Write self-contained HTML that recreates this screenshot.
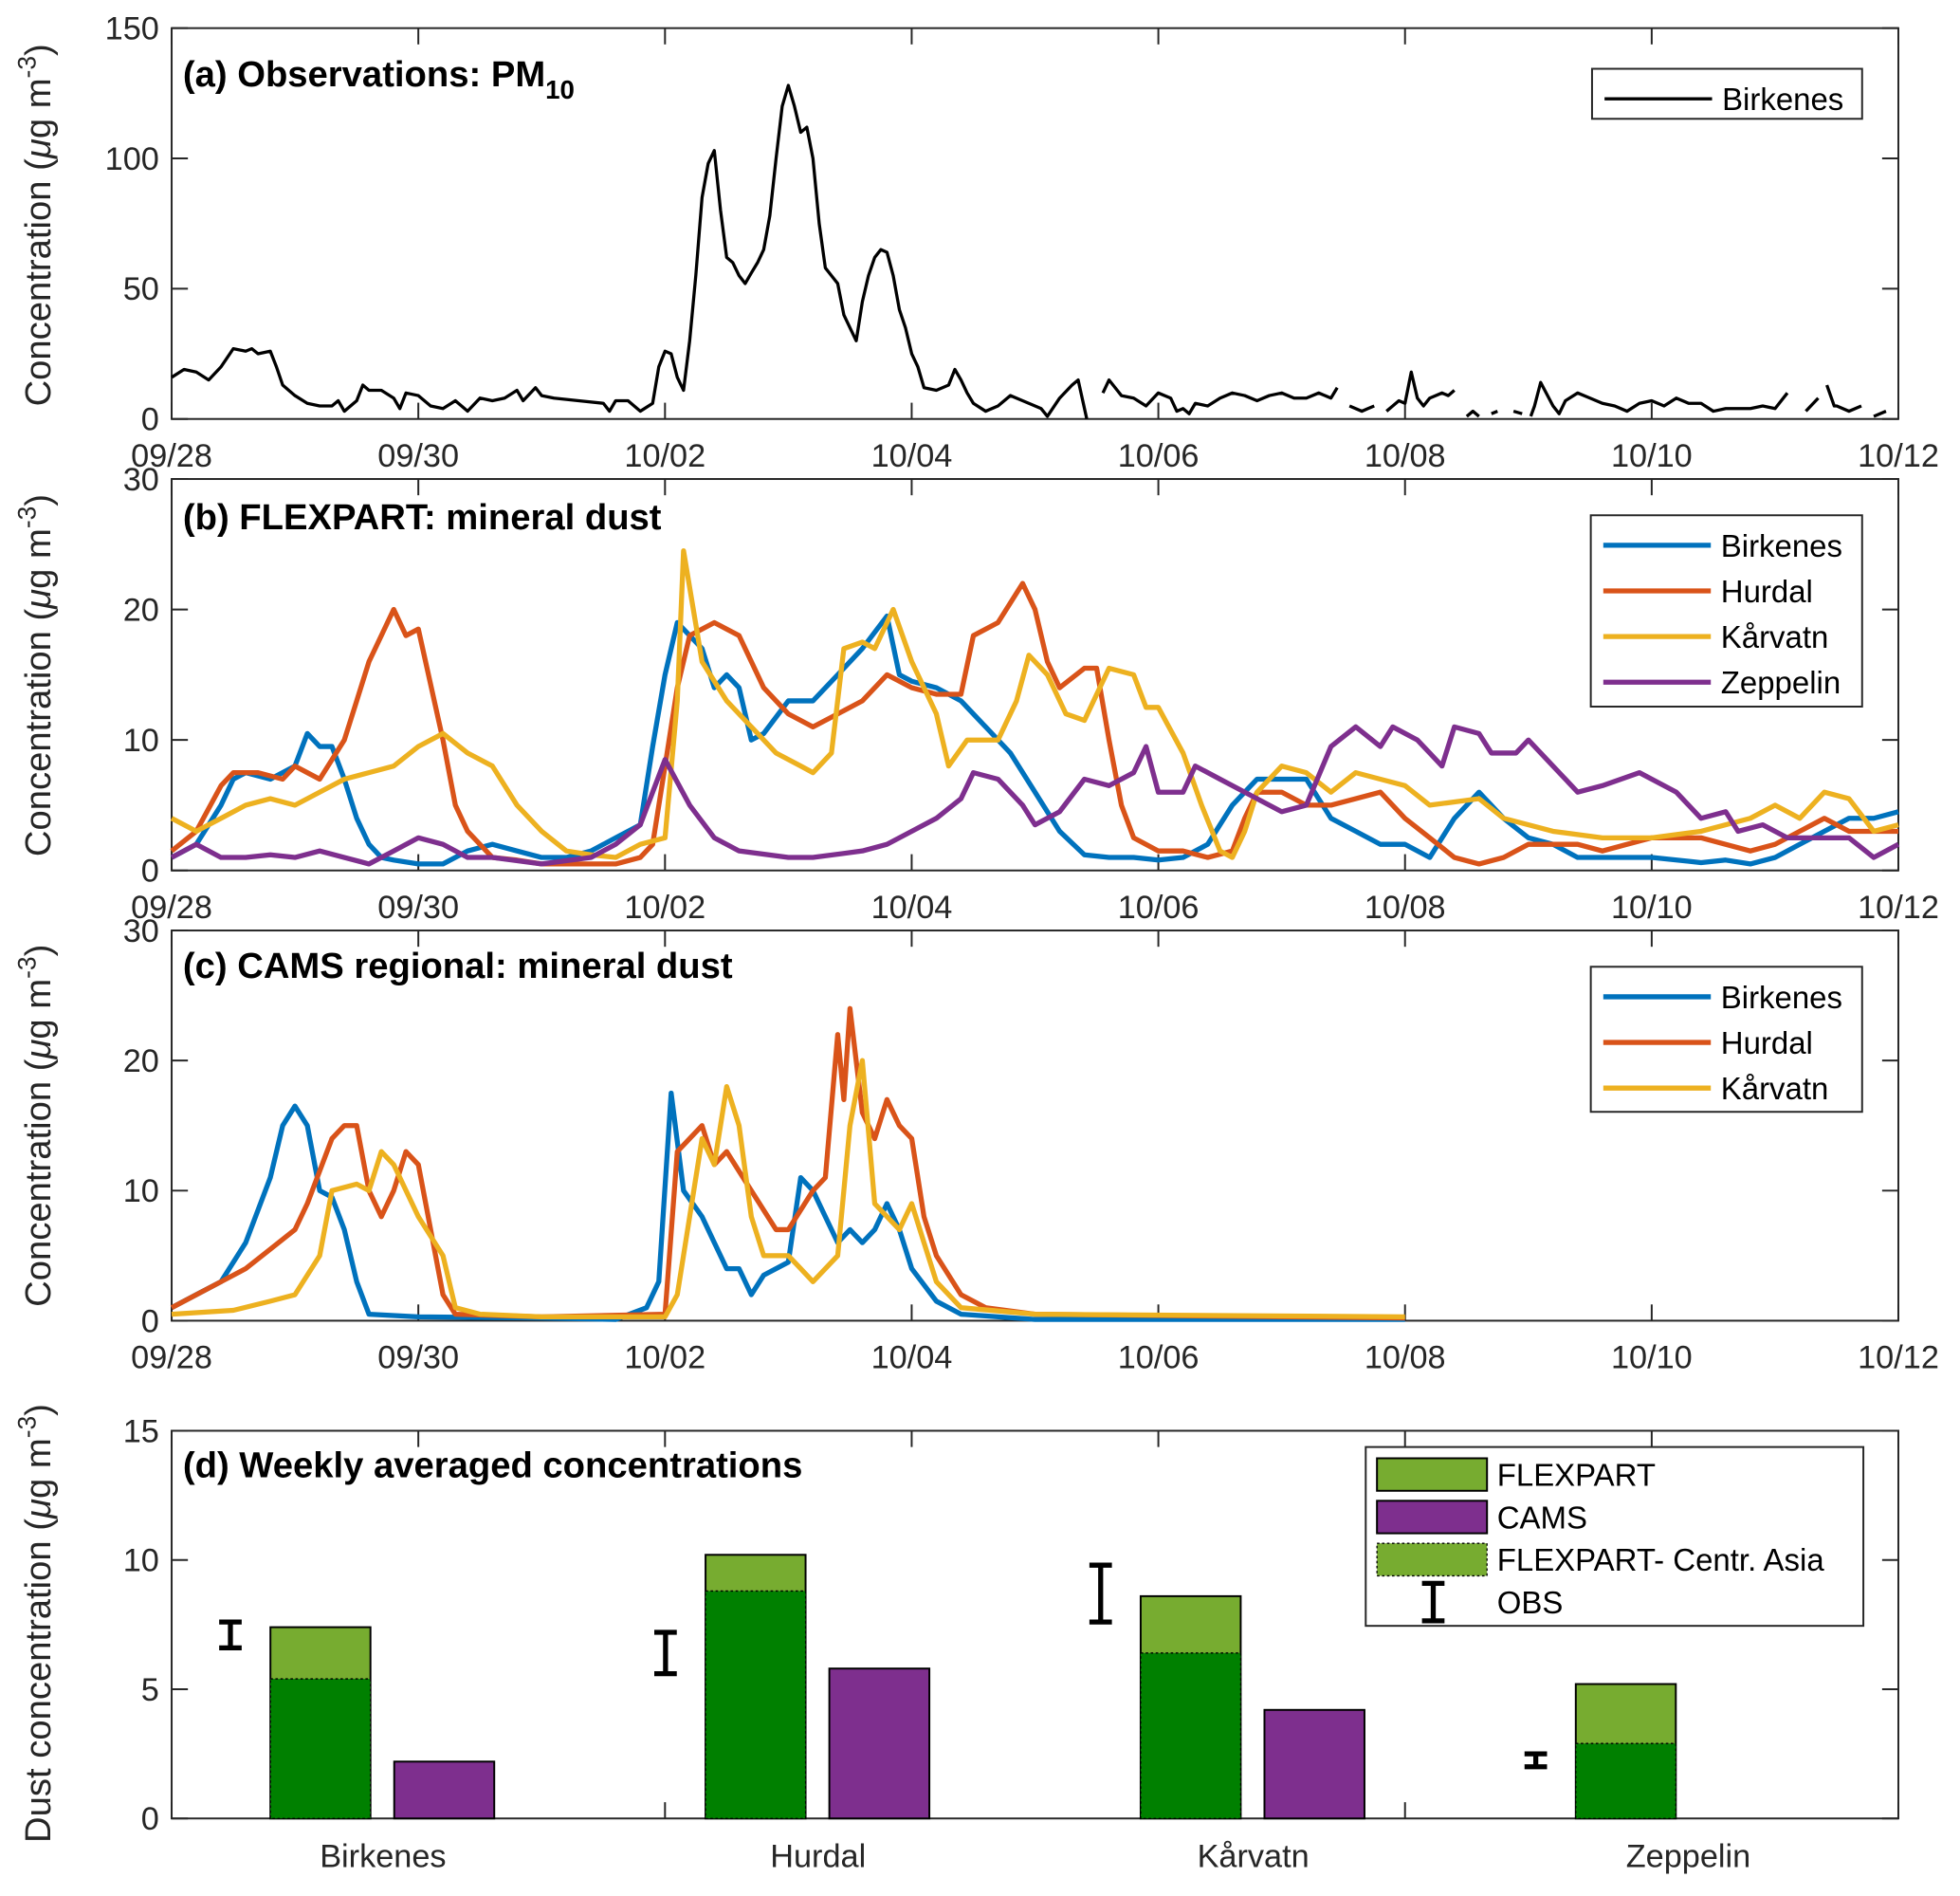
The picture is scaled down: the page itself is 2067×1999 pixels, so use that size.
<!DOCTYPE html>
<html><head><meta charset="utf-8"><style>
html,body{margin:0;padding:0;background:#fff;}
svg{display:block;font-family:"Liberation Sans",Arial,sans-serif;}
</style></head><body>
<svg id="fig" width="2067" height="1999" viewBox="0 0 1567 1516" xmlns="http://www.w3.org/2000/svg"></svg>
<script>
// ---------- DATA ----------
const xTickLabels = ["09/28","09/30","10/02","10/04","10/06","10/08","10/10","10/12"];
const yTicksA = [0,50,100,150];
const yTicksBC = [0,10,20,30];
const yTicksD = [0,5,10,15];
const stationNames = ["Birkenes","Hurdal","Kårvatn","Zeppelin"];

// panel a: observations (day offset from 09/28, value); null = gap
const obsT = [0,0.1,0.2,0.3,0.4,0.5,0.6,0.65,0.7,0.8,0.85,0.9,1.0,1.1,1.2,1.3,1.35,1.4,1.5,1.55,1.6,1.7,1.8,1.85,1.9,2.0,2.1,2.2,2.3,2.4,2.5,2.6,2.7,2.8,2.85,2.95,3.0,3.1,3.3,3.5,3.55,3.6,3.7,3.8,3.9,3.95,4.0,4.05,4.1,4.15,4.2,4.25,4.3,4.35,4.4,4.45,4.5,4.55,4.6,4.65,4.7,4.75,4.8,4.85,4.9,4.95,5.0,5.05,5.1,5.15,5.2,5.25,5.3,5.35,5.4,5.45,5.5,5.55,5.6,5.65,5.7,5.75,5.8,5.85,5.9,5.95,6.0,6.05,6.1,6.2,6.3,6.35,6.4,6.45,6.5,6.6,6.7,6.8,6.9,7.0,7.05,7.1,7.2,7.3,7.35,7.42,7.48,7.55,7.6,7.65,7.7,7.8,7.9,8.0,8.1,8.15,8.2,8.25,8.3,8.4,8.5,8.6,8.7,8.8,8.9,9.0,9.1,9.2,9.3,9.4,9.45,9.5,9.55,9.65,9.7,9.75,9.8,9.85,9.9,9.95,10.0,10.05,10.1,10.15,10.2,10.3,10.35,10.4,10.45,10.5,10.55,10.6,10.65,10.7,10.75,10.8,10.88,10.95,11.0,11.02,11.05,11.1,11.2,11.25,11.3,11.4,11.5,11.6,11.7,11.8,11.9,12.0,12.1,12.2,12.3,12.4,12.5,12.6,12.7,12.8,12.9,13.0,13.1,13.2,13.25,13.35,13.4,13.42,13.48,13.5,13.6,13.7,13.75,13.8,13.9,14.0];
const obsV = [16,19,18,15,20,27,26,27,25,26,20,13,9,6,5,5,7,3,7,13,11,11,8,4,10,9,5,4,7,3,8,7,8,11,7,12,9,8,7,6,3,7,7,3,6,20,26,25,16,11,30,55,85,98,103,80,62,60,55,52,56,60,65,78,100,120,128,120,110,112,100,75,58,55,52,40,35,30,45,55,62,65,64,55,42,35,25,20,12,11,13,19,15,10,6,3,5,9,7,5,4,1,8,13,15,0,null,10,15,12,9,8,5,10,8,3,4,2,6,5,8,10,9,7,9,10,8,8,10,8,12,null,5,3,4,5,null,3,5,7,6,18,8,5,8,10,9,11,null,1,3,1,null,2,3,null,3,2,null,1,5,14,5,2,7,10,8,6,5,3,6,7,5,8,6,6,3,4,4,4,5,4,10,null,3,8,null,13,5,5,3,5,null,1,3];

// panel b: FLEXPART
const fbBirkT = [0,0.2,0.4,0.5,0.6,0.8,1.0,1.1,1.2,1.3,1.4,1.5,1.6,1.7,1.8,2.0,2.2,2.4,2.6,2.8,3.0,3.2,3.4,3.6,3.8,3.9,4.0,4.1,4.2,4.3,4.4,4.5,4.6,4.7,4.8,5.0,5.2,5.4,5.6,5.8,5.9,6.0,6.2,6.4,6.6,6.8,7.0,7.2,7.4,7.6,7.8,8.0,8.2,8.4,8.6,8.8,9.0,9.2,9.4,9.6,9.8,10.0,10.2,10.4,10.6,10.8,11.0,11.2,11.4,11.6,12.0,12.4,12.6,12.8,13.0,13.2,13.4,13.6,13.8,14.0];
const fbBirkV = [1,2,5,7,7.5,7,8,10.5,9.5,9.5,7,4,2,1,0.8,0.5,0.5,1.5,2,1.5,1,1,1.5,2.5,3.5,9.5,15,19,18,17,14,15,14,10,10.5,13,13,15,17,19.5,15,14.5,14,13,11,9,6,3,1.2,1,1,0.8,1,2,5,7,7,7,4,3,2,2,1,4,6,4,2.5,2,1,1,1,0.6,0.8,0.5,1,2,3,4,4,4.5];
const fbHurdT = [0,0.2,0.4,0.5,0.7,0.9,1.0,1.1,1.2,1.4,1.5,1.6,1.7,1.8,1.9,2.0,2.2,2.3,2.4,2.6,2.8,3.0,3.4,3.6,3.8,3.9,4.0,4.1,4.2,4.4,4.6,4.8,5.0,5.2,5.4,5.6,5.8,6.0,6.2,6.4,6.5,6.7,6.9,7.0,7.1,7.2,7.4,7.5,7.6,7.7,7.8,8.0,8.2,8.4,8.6,8.7,8.8,9.0,9.2,9.4,9.6,9.8,10.0,10.2,10.4,10.6,10.8,11.0,11.2,11.4,11.6,11.8,12.0,12.4,12.8,13.0,13.2,13.4,13.6,14.0];
const fbHurdV = [1.5,3,6.5,7.5,7.5,7,8,7.5,7,10,13,16,18,20,18,18.5,10,5,3,1,0.8,0.5,0.5,0.5,1,2,8,14,18,19,18,14,12,11,12,13,15,14,13.5,13.5,18,19,22,20,16,14,15.5,15.5,10,5,2.5,1.5,1.5,1,1.5,4,6,6,5,5,5.5,6,4,2.5,1,0.5,1,2,2,2,1.5,2,2.5,2.5,1.5,2,3,4,3,3];
const fbKarvT = [0,0.2,0.4,0.6,0.8,1.0,1.2,1.4,1.6,1.8,2.0,2.2,2.4,2.6,2.8,3.0,3.2,3.4,3.6,3.8,4.0,4.1,4.15,4.3,4.5,4.7,4.9,5.1,5.2,5.35,5.45,5.6,5.7,5.85,6.0,6.2,6.3,6.45,6.6,6.7,6.85,6.95,7.1,7.25,7.4,7.6,7.8,7.9,8.0,8.2,8.35,8.5,8.6,8.7,8.8,9.0,9.2,9.4,9.6,9.8,10.0,10.2,10.6,10.8,11.2,11.6,12.0,12.4,12.8,13.0,13.2,13.4,13.6,13.8,14.0];
const fbKarvV = [4,3,4,5,5.5,5,6,7,7.5,8,9.5,10.5,9,8,5,3,1.5,1.2,1,2,2.5,13,24.5,16,13,11,9,8,7.5,9,17,17.5,17,20,16,12,8,10,10,10,13,16.5,15,12,11.5,15.5,15,12.5,12.5,9,5,1.5,1,3,6,8,7.5,6,7.5,7,6.5,5,5.5,4,3,2.5,2.5,3,4,5,4,6,5.5,3,3.5];
const fbZepT = [0,0.2,0.4,0.6,0.8,1.0,1.2,1.4,1.6,1.8,2.0,2.2,2.4,2.6,3.0,3.4,3.6,3.8,4.0,4.2,4.4,4.6,5.0,5.2,5.6,5.8,6.0,6.2,6.4,6.5,6.7,6.9,7.0,7.2,7.4,7.6,7.8,7.9,8.0,8.2,8.3,8.5,8.7,8.9,9.0,9.2,9.4,9.6,9.8,9.9,10.1,10.2,10.3,10.4,10.6,10.7,10.9,11.0,11.2,11.4,11.6,11.9,12.2,12.4,12.6,12.7,12.9,13.1,13.3,13.6,13.8,14.0];
const fbZepV = [1,2,1,1,1.2,1,1.5,1,0.5,1.5,2.5,2,1,1,0.5,1,2,3.5,8.5,5,2.5,1.5,1,1,1.5,2,3,4,5.5,7.5,7,5,3.5,4.5,7,6.5,7.5,9.5,6,6,8,7,6,5,4.5,5,9.5,11,9.5,11,10,9,8,11,10.5,9,9,10,8,6,6.5,7.5,6,4,4.5,3,3.5,2.5,2.5,2.5,1,2];

// panel c: CAMS regional
const cmBirkT = [0,0.2,0.4,0.6,0.8,0.9,1.0,1.1,1.2,1.3,1.4,1.5,1.6,2.0,3.0,3.6,3.85,3.95,4.05,4.15,4.3,4.4,4.5,4.6,4.7,4.8,5.0,5.1,5.2,5.3,5.4,5.5,5.6,5.7,5.8,5.9,6.0,6.2,6.4,7.0,10.0];
const cmBirkV = [1,2,3,6,11,15,16.5,15,10,9.5,7,3,0.5,0.3,0.2,0.1,1,3,17.5,10,8,6,4,4,2,3.5,4.5,11,10,8,6,7,6,7,9,7,4,1.5,0.5,0.1,0.1];
const cmHurdT = [0,0.4,0.6,0.8,1.0,1.1,1.3,1.4,1.5,1.6,1.7,1.8,1.9,2.0,2.2,2.3,3.0,4.0,4.1,4.2,4.3,4.4,4.5,4.7,4.9,5.0,5.2,5.3,5.4,5.45,5.5,5.6,5.7,5.8,5.9,6.0,6.1,6.2,6.4,6.6,7.0,10.0];
const cmHurdV = [1,3,4,5.5,7,9,14,15,15,10,8,10,13,12,2,0.5,0.3,0.5,13,14,15,12,13,10,7,7,10,11,22,17,24,16,14,17,15,14,8,5,2,1,0.5,0.2];
const cmKarvT = [0,0.5,0.8,1.0,1.2,1.3,1.5,1.6,1.7,1.8,2.0,2.2,2.3,2.5,3.0,4.0,4.1,4.2,4.3,4.4,4.5,4.6,4.7,4.8,5.0,5.1,5.2,5.4,5.5,5.6,5.7,5.8,5.9,6.0,6.1,6.2,6.4,7.0,10.0];
const cmKarvV = [0.5,0.8,1.5,2,5,10,10.5,10,13,12,8,5,1,0.5,0.3,0.3,2,8,14,12,18,15,8,5,5,4,3,5,15,20,9,8,7,9,6,3,1,0.5,0.3];

// panel d: weekly averages
const flexTotal = [7.4,10.2,8.6,5.2];
const flexCentrAsia = [5.4,8.8,6.4,2.9];
const camsWeekly = [2.2,5.8,4.2,0];
const obsLow = [6.6,5.6,7.6,2.0];
const obsHigh = [7.6,7.2,9.8,2.5];

// ---------- DRAW ----------
const NS="http://www.w3.org/2000/svg";
const svg=document.getElementById('fig');
function mk(tag,attrs,parent){const e=document.createElementNS(NS,tag);for(const k in attrs)e.setAttribute(k,attrs[k]);(parent||svg).appendChild(e);return e;}
const L=137,R=1518;
const COL={b:"#0072BD",h:"#D95319",k:"#EDB120",z:"#7E2F8E"};
function xs(d){return L+(R-L)*d/14;}
function mkY(top,bot,max){return v=>bot-(bot-top)*v/max;}

function frame(name,top,bot,ticks,max,dateTicks){
  const g=mk('g',{});
  
  
  const ys=mkY(top,bot,max);
  const r=mk('rect',{x:L,y:top,width:R-L,height:bot-top,fill:'none',stroke:'#262626','stroke-width':1.5},g);
  
  ticks.forEach(t=>{
    const y=ys(t);
    mk('line',{x1:L,x2:L+13,y1:y,y2:y,stroke:'#262626','stroke-width':1.5},g);
    mk('line',{x1:R,x2:R-13,y1:y,y2:y,stroke:'#262626','stroke-width':1.5},g);
    const tx=mk('text',{x:L-10,y:y+9,'font-size':26,'text-anchor':'end',fill:'#262626'},g);
    tx.textContent=t;
    
  });
  xTickLabels.forEach((lab,i)=>{
    const x=xs(i*2);
    mk('line',{x1:x,x2:x,y1:bot,y2:bot-13,stroke:'#262626','stroke-width':1.5},g);
    mk('line',{x1:x,x2:x,y1:top,y2:top+13,stroke:'#262626','stroke-width':1.5},g);
    if(dateTicks){
      const tx=mk('text',{x:x,y:bot+38,'font-size':26,'text-anchor':'middle',fill:'#262626'},g);
      tx.textContent=lab;
      
    }
  });
  return ys;
}
function series(name,T,V,ys,color,w){
  let d='',pen=false;
  for(let i=0;i<T.length;i++){
    if(V[i]===null){pen=false;continue;}
    d+=(pen?'L':'M')+xs(T[i]).toFixed(1)+','+ys(V[i]).toFixed(1);pen=true;
  }
  const p=mk('path',{d:d,fill:'none',stroke:color,'stroke-width':w,'stroke-linejoin':'round'});
  
}
function ylabel(text,cx,cy,name){
  const t=mk('text',{x:0,y:0,'font-size':29,'text-anchor':'middle',fill:'#262626',transform:`translate(${cx},${cy}) rotate(-90)`});
  t.innerHTML=text+' (<tspan font-style="italic">μ</tspan>g m<tspan dy="-12" font-size="20">-3</tspan><tspan dy="12">)</tspan>';
  
}
function title(html,y,name){
  const t=mk('text',{x:146,y:y,'font-size':29,'font-weight':'bold',fill:'#000'});
  t.innerHTML=html;
}
function legend(name,x,y,w,h,items){
  const g=mk('g',{});
  mk('rect',{x:x,y:y,width:w,height:h,fill:'#fff',stroke:'#262626','stroke-width':1.5},g);
  items.forEach((it,i)=>{
    const yy=y+24+i*36.5;
    const ln=mk('line',{x1:x+10,x2:x+96,y1:yy,y2:yy,stroke:it[1],'stroke-width':it[2]},g);
    
    const t=mk('text',{x:x+104,y:yy+9,'font-size':25,fill:'#000'},g);t.textContent=it[0];
    
  });
}

// Panel a
const ya=frame('panel-a',22.5,335,yTicksA,150,true);
series('obs-birkenes-line',obsT,obsV,ya,'#000',2.5);
title('(a) Observations: PM<tspan dy="10" font-size="21">10</tspan>',69,'panel-a-title');
ylabel('Concentration',40,180,'panel-a-y-axis-title');
legend('panel-a-legend',1273,55,216,40,[["Birkenes","#000",2.5]]);

// Panel b
const yb=frame('panel-b',383,696,yTicksBC,30,true);
series('flexpart-birkenes-line',fbBirkT,fbBirkV,yb,COL.b,4);
series('flexpart-hurdal-line',fbHurdT,fbHurdV,yb,COL.h,4);
series('flexpart-karvatn-line',fbKarvT,fbKarvV,yb,COL.k,4);
series('flexpart-zeppelin-line',fbZepT,fbZepV,yb,COL.z,4);
title('(b) FLEXPART: mineral dust',423,'panel-b-title');
ylabel('Concentration',40,540,'panel-b-y-axis-title');
legend('panel-b-legend',1272,412,217,153,[["Birkenes",COL.b,4],["Hurdal",COL.h,4],["Kårvatn",COL.k,4],["Zeppelin",COL.z,4]]);

// Panel c
const yc=frame('panel-c',744,1056,yTicksBC,30,true);
series('cams-birkenes-line',cmBirkT,cmBirkV,yc,COL.b,4);
series('cams-hurdal-line',cmHurdT,cmHurdV,yc,COL.h,4);
series('cams-karvatn-line',cmKarvT,cmKarvV,yc,COL.k,4);
title('(c) CAMS regional: mineral dust',782,'panel-c-title');
ylabel('Concentration',40,900,'panel-c-y-axis-title');
legend('panel-c-legend',1272,773,217,116,[["Birkenes",COL.b,4],["Hurdal",COL.h,4],["Kårvatn",COL.k,4]]);

// Panel d
const yd=frame('panel-d',1144,1454,yTicksD,15,false);
title('(d) Weekly averaged concentrations',1181,'panel-d-title');
ylabel('Dust concentration',40,1298,'panel-d-y-axis-title');
const catX=i=>306+348*i;
stationNames.forEach((s,i)=>{
  const c=catX(i);
  const b1=mk('rect',{x:c-90,y:yd(flexTotal[i]),width:80,height:yd(0)-yd(flexTotal[i]),fill:'#77AC30',stroke:'#000','stroke-width':1.5});
  
  const b2=mk('rect',{x:c-90,y:yd(flexCentrAsia[i]),width:80,height:yd(0)-yd(flexCentrAsia[i]),fill:'#008000',stroke:'#000','stroke-width':1,'stroke-dasharray':'2,2'});
  
  if(camsWeekly[i]>0){
    const b3=mk('rect',{x:c+9,y:yd(camsWeekly[i]),width:80,height:yd(0)-yd(camsWeekly[i]),fill:'#7E2F8E',stroke:'#000','stroke-width':1.5});
    
  }
  const ex=c-122,eg=mk('g',{stroke:'#000','stroke-width':4});
  
  mk('line',{x1:ex,x2:ex,y1:yd(obsLow[i]),y2:yd(obsHigh[i])},eg);
  mk('line',{x1:ex-9,x2:ex+9,y1:yd(obsLow[i]),y2:yd(obsLow[i])},eg);
  mk('line',{x1:ex-9,x2:ex+9,y1:yd(obsHigh[i]),y2:yd(obsHigh[i])},eg);
  const t=mk('text',{x:c,y:1493,'font-size':26,'text-anchor':'middle',fill:'#262626'});
  t.textContent=s;
});
// legend d
(function(){
  const g=mk('g',{});
  mk('rect',{x:1092,y:1157,width:398,height:143,fill:'#fff',stroke:'#262626','stroke-width':1.5},g);
  const rows=[["FLEXPART","#77AC30",""],["CAMS","#7E2F8E",""],["FLEXPART- Centr. Asia","#77AC30","2,2"],["OBS",null,""]];
  rows.forEach((r,i)=>{
    const yy=1179+i*34;
    if(r[1]){
      mk('rect',{x:1101,y:yy-13,width:88,height:26,fill:r[1],stroke:'#000','stroke-width':r[2]?1:1.5,'stroke-dasharray':r[2]||'none'},g);
    }else{
      mk('line',{x1:1146,x2:1146,y1:yy-15,y2:yy+15,stroke:'#000','stroke-width':4},g);
      mk('line',{x1:1137,x2:1155,y1:yy-15,y2:yy-15,stroke:'#000','stroke-width':4},g);
      mk('line',{x1:1137,x2:1155,y1:yy+15,y2:yy+15,stroke:'#000','stroke-width':4},g);
    }
    const t=mk('text',{x:1197,y:yy+9,'font-size':25,fill:'#000'},g);t.textContent=r[0];
    
  });
})();
</script>
</body></html>
